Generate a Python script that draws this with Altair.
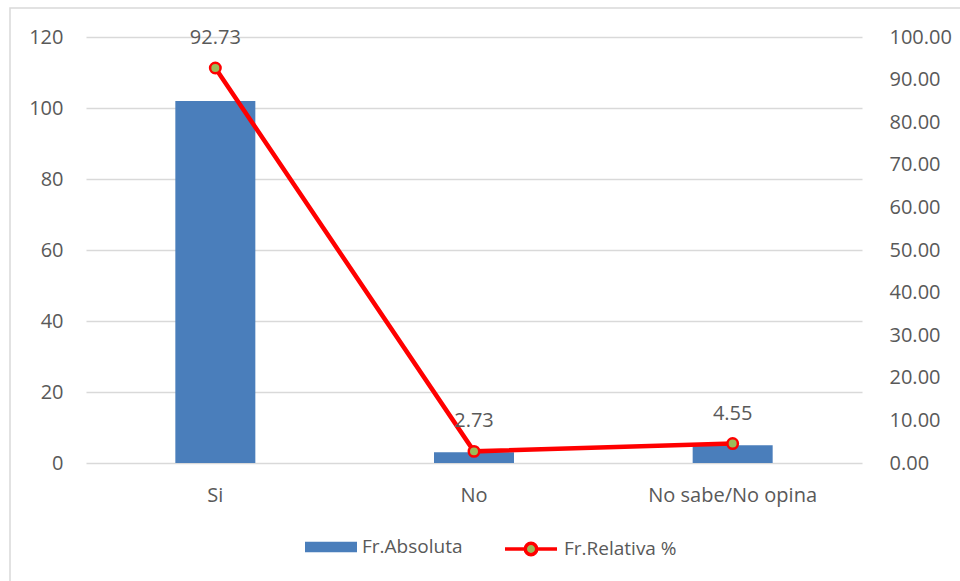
import altair as alt
import pandas as pd

# Survey answers: absolute counts (left axis) and relative share in % (right axis)
respuestas = ["Si", "No", "No sabe/No opina"]
fr_absoluta = [102, 3, 5]
fr_relativa = [92.73, 2.73, 4.55]

left_ticks = [0, 20, 40, 60, 80, 100, 120]
right_ticks = [0, 10, 20, 30, 40, 50, 60, 70, 80, 90, 100]

df = pd.DataFrame({"respuesta": respuestas, "absoluta": fr_absoluta, "relativa": fr_relativa})

FONT = "Open Sans"
TXT = "#595959"
GRID = "#d9d9d9"
BLUE = "#4a7ebb"
RED = "#ff0000"
GREEN = "#9bbb59"

x_enc = alt.X(
    "respuesta:N",
    sort=respuestas,
    scale=alt.Scale(paddingInner=0, paddingOuter=0),
    axis=alt.Axis(
        title=None, labelAngle=0, ticks=False, domain=False,
        labelPadding=22, labelFontSize=20, labelFont=FONT, labelColor=TXT,
    ),
)

bars = alt.Chart(df).transform_calculate(serie="'Fr.Absoluta'").mark_bar(size=80, color=BLUE).encode(
    x=x_enc,
    y=alt.Y(
        "absoluta:Q",
        scale=alt.Scale(domain=[0, 120], nice=False),
        axis=alt.Axis(
            title=None, values=left_ticks, grid=True, gridColor=GRID, gridWidth=1.5,
            domain=False, ticks=False, labelPadding=23,
            labelFontSize=20, labelFont=FONT, labelColor=TXT,
        ),
    ),
    color=alt.Color(
        "serie:N",
        scale=alt.Scale(domain=["Fr.Absoluta"], range=[BLUE]),
        legend=alt.Legend(
            title=None, orient="none", legendX=219, legendY=484,
            symbolType="M-1,-0.2H1V0.2H-1Z", symbolSize=2704, symbolStrokeWidth=0,
            labelFontSize=19, labelFont=FONT, labelColor=TXT, labelOffset=5, padding=0,
        ),
    ),
)

# relative share: line, markers and value labels share one right-hand scale
rel = alt.Chart(df).transform_calculate(serie="'Fr.Relativa %'").encode(
    x=x_enc,
    y=alt.Y(
        "relativa:Q",
        scale=alt.Scale(domain=[0, 100], nice=False),
        axis=alt.Axis(
            title=None, orient="right", values=right_ticks, format=".2f",
            grid=False, domain=False, ticks=False, labelPadding=27,
            labelFontSize=20, labelFont=FONT, labelColor=TXT,
        ),
    ),
)

line = rel.mark_line(strokeWidth=4.5).encode(
    color=alt.Color(
        "serie:N",
        scale=alt.Scale(domain=["Fr.Relativa %"], range=[RED]),
        legend=alt.Legend(
            title=None, orient="none", legendX=417, legendY=484,
            symbolType="M-1,0H-0.22M0.22,0H1M-0.22,0A0.22,0.22 0 1,1 0.22,0A0.22,0.22 0 1,1 -0.22,0Z",
            symbolSize=2704, symbolStrokeWidth=3.5,
            symbolFillColor=GREEN, symbolStrokeColor=RED,
            labelFontSize=19, labelFont=FONT, labelColor=TXT, labelOffset=5, padding=0,
        ),
    ),
)

points = rel.mark_point(
    filled=True, fill=GREEN, stroke=RED, strokeWidth=2.5, size=110, opacity=1
)

labels = rel.mark_text(
    dy=-24, baseline="alphabetic", fontSize=20, font=FONT, color=TXT
).encode(text=alt.Text("relativa:Q", format=".2f"))

# light frame around the whole figure
frame = alt.Chart(pd.DataFrame({"k": [0]})).mark_rect(
    fill=None, stroke=GRID, strokeWidth=1.5
).encode(
    x=alt.value(-76), x2=alt.value(890), y=alt.value(-29), y2=alt.value(560)
)

chart = alt.layer(
    frame,
    bars,
    alt.layer(line, points, labels),
).resolve_scale(
    y="independent", color="independent"
).resolve_legend(
    color="independent"
).properties(
    width=776,
    height=426,
    padding={"left": 86, "top": 37, "right": 98, "bottom": 118},
    autosize=alt.AutoSizeParams(type="none"),
    background="white",
).configure_view(stroke=None)

chart.save("out.html", embed_options={"renderer": "svg", "actions": False})
